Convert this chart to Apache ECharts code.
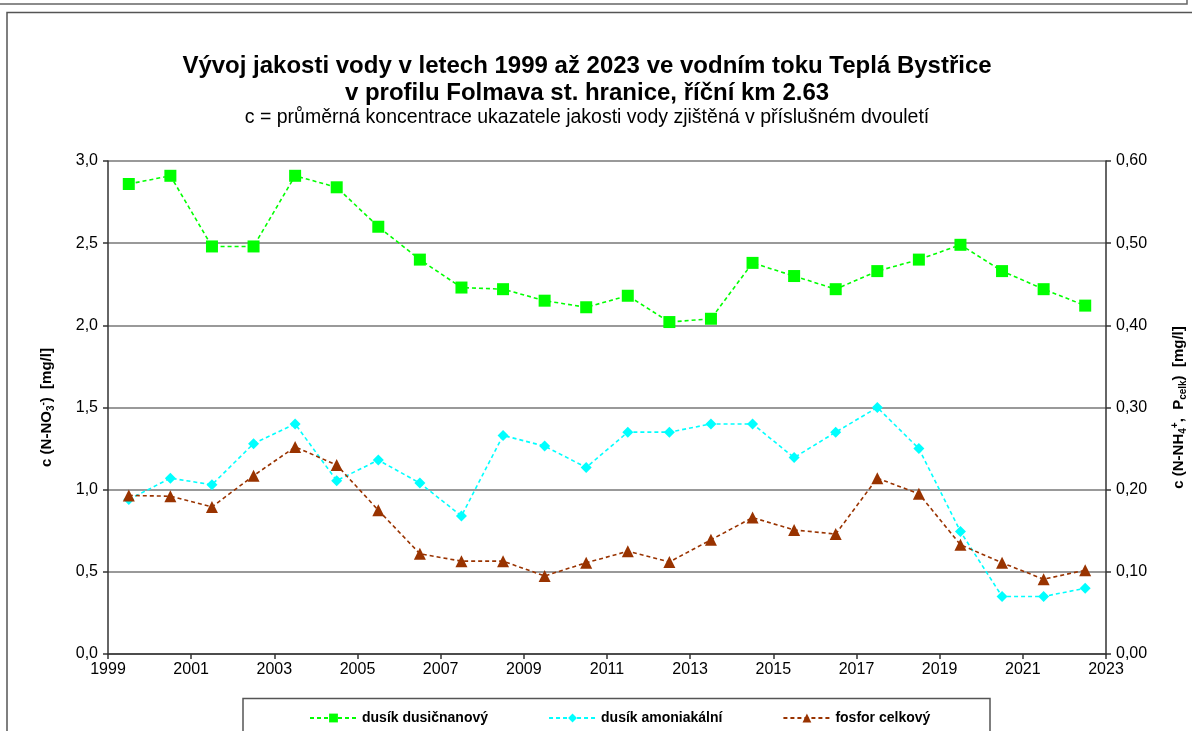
<!DOCTYPE html>
<html>
<head>
<meta charset="utf-8">
<script src="https://cdn.jsdelivr.net/npm/echarts@6/dist/echarts.min.js"></script>
<style>
  html, body { margin: 0; padding: 0; background: #fff; }
  #chart { width: 1192px; height: 731px; }
</style>
</head>
<body>
<div id="chart"></div>
<script>
// roky (středy dvouletí)
const years = [1999.5, 2000.5, 2001.5, 2002.5, 2003.5, 2004.5, 2005.5, 2006.5,
  2007.5, 2008.5, 2009.5, 2010.5, 2011.5, 2012.5, 2013.5, 2014.5,
  2015.5, 2016.5, 2017.5, 2018.5, 2019.5, 2020.5, 2021.5, 2022.5];

// dusík dusičnanový (levá osa)
const dusicnan = [2.86, 2.91, 2.48, 2.48, 2.91, 2.84, 2.60, 2.40,
  2.23, 2.22, 2.15, 2.11, 2.18, 2.02, 2.04, 2.38,
  2.30, 2.22, 2.33, 2.40, 2.49, 2.33, 2.22, 2.12];

// dusík amoniakální (pravá osa)
const amoniak = [0.188, 0.214, 0.206, 0.256, 0.280, 0.211, 0.236, 0.208,
  0.168, 0.266, 0.253, 0.227, 0.270, 0.270, 0.280, 0.280,
  0.239, 0.270, 0.300, 0.250, 0.149, 0.070, 0.070, 0.080];

// fosfor celkový (pravá osa)
const fosfor = [0.193, 0.192, 0.179, 0.217, 0.252, 0.230, 0.175, 0.122,
  0.113, 0.113, 0.095, 0.111, 0.125, 0.112, 0.139, 0.166,
  0.151, 0.146, 0.214, 0.195, 0.133, 0.111, 0.091, 0.102];

const seriesNames = ['dusík dusičnanový', 'dusík amoniakální', 'fosfor celkový'];

const pairs = (ys) => years.map((x, i) => [x, ys[i]]);
const FONT = 'Liberation Sans, Arial, sans-serif';

const chart = echarts.init(document.getElementById('chart'));

const axisLine = { show: true, lineStyle: { color: '#333', width: 1.5 } };
const axisTick = { show: true, inside: false, length: 5, lineStyle: { color: '#333', width: 1.5 } };

// popisky os s indexy
const nameRich = {
  b: { fontFamily: FONT, fontSize: 15, fontWeight: 'bold', color: '#000', lineHeight: 18 },
  s: { fontFamily: FONT, fontSize: 10, fontWeight: 'bold', color: '#000', lineHeight: 18, verticalAlign: 'bottom', padding: [7, 0, 0, 0] },
  p: { fontFamily: FONT, fontSize: 10, fontWeight: 'bold', color: '#000', lineHeight: 18, verticalAlign: 'top', padding: [0, 0, 7, 0] }
};

const option = {
  animation: false,
  backgroundColor: '#fff',
  title: {
    text: 'Vývoj jakosti vody v letech 1999 až 2023 ve vodním toku Teplá Bystřice\nv profilu Folmava st. hranice, říční km 2.63',
    subtext: 'c = průměrná koncentrace ukazatele jakosti vody zjištěná v příslušném dvouletí',
    left: 582,
    textAlign: 'center',
    top: 48,
    itemGap: 1,
    textStyle: { fontFamily: FONT, fontSize: 24, fontWeight: 'bold', color: '#000', lineHeight: 27 },
    subtextStyle: { fontFamily: FONT, fontSize: 19.5, color: '#000', lineHeight: 20 }
  },
  grid: { left: 108, right: 86, top: 161, bottom: 77, containLabel: false, outerBoundsMode: 'none' },
  legend: {
    data: seriesNames,
    left: 304,
    top: 706,
    itemGap: 60,
    itemWidth: 47,
    itemHeight: 11,
    textStyle: { fontFamily: FONT, fontSize: 14, fontWeight: 'bold', color: '#000' }
  },
  xAxis: {
    type: 'value',
    min: 1999,
    max: 2023,
    interval: 2,
    axisLine: axisLine,
    axisTick: axisTick,
    splitLine: { show: false },
    axisLabel: { fontFamily: FONT, fontSize: 16, color: '#000', margin: 8, formatter: v => String(v) }
  },
  yAxis: [
    {
      type: 'value',
      min: 0, max: 3, interval: 0.5,
      position: 'left',
      axisLine: axisLine,
      axisTick: axisTick,
      splitLine: { show: true, lineStyle: { color: '#777', width: 1.5 } },
      axisLabel: {
        fontFamily: FONT, fontSize: 16, color: '#000', margin: 10,
        formatter: v => v.toFixed(1).replace('.', ',')
      },
      name: '{b|c (N-NO}{s|3}{p|-}{b|)  [mg/l]}',
      nameLocation: 'middle',
      nameRotate: 90,
      nameGap: 52,
      nameTextStyle: { rich: nameRich }
    },
    {
      type: 'value',
      min: 0, max: 0.6, interval: 0.1,
      position: 'right',
      axisLine: axisLine,
      axisTick: axisTick,
      splitLine: { show: false },
      axisLabel: {
        fontFamily: FONT, fontSize: 16, color: '#000', margin: 10,
        formatter: v => v.toFixed(2).replace('.', ',')
      },
      name: '{b|c (N-NH}{s|4}{p|+}{b|,  P}{s|celk}{b|)  [mg/l]}',
      nameLocation: 'middle',
      nameRotate: 90,
      nameGap: 64,
      nameTextStyle: { rich: nameRich }
    }
  ],
  series: [
    {
      name: seriesNames[0],
      type: 'line',
      yAxisIndex: 0,
      data: pairs(dusicnan),
      symbol: 'rect',
      symbolSize: 12,
      itemStyle: { color: '#00ff00' },
      lineStyle: { color: '#00ff00', width: 1.6, type: [4, 3] },
      z: 3
    },
    {
      name: seriesNames[1],
      type: 'line',
      yAxisIndex: 1,
      data: pairs(amoniak),
      symbol: 'diamond',
      symbolSize: 11,
      itemStyle: { color: '#00ffff' },
      lineStyle: { color: '#00ffff', width: 1.6, type: [4, 3] },
      z: 2
    },
    {
      name: seriesNames[2],
      type: 'line',
      yAxisIndex: 1,
      data: pairs(fosfor),
      symbol: 'triangle',
      symbolSize: 12,
      itemStyle: { color: '#993300' },
      lineStyle: { color: '#993300', width: 1.6, type: [4, 3] },
      z: 4
    }
  ],
  graphic: [
    // horní rámeček předchozího objektu
    { type: 'rect', shape: { x: -10, y: -10, width: 1197, height: 14 }, style: { fill: 'none', stroke: '#666', lineWidth: 1.5 }, silent: true },
    // rámeček grafu
    { type: 'rect', shape: { x: 7, y: 12.5, width: 1200, height: 800 }, style: { fill: 'none', stroke: '#555', lineWidth: 1.5 }, silent: true },
    // rámeček legendy
    { type: 'rect', shape: { x: 243, y: 698.5, width: 747, height: 60 }, style: { fill: 'none', stroke: '#555', lineWidth: 1.5 }, silent: true }
  ]
};

chart.setOption(option);
</script>
</body>
</html>
